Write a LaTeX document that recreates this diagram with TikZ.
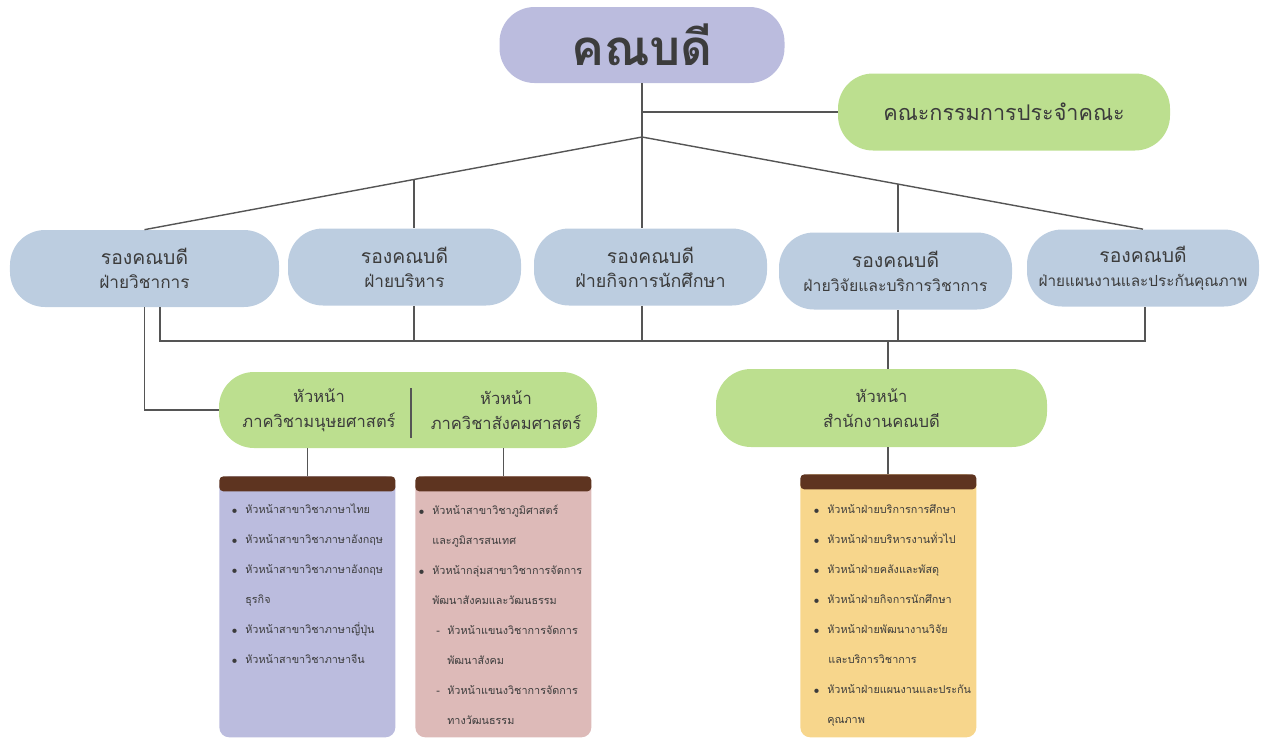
\documentclass[tikz,border=0pt]{standalone}
\usepackage{fontspec}
\setmainfont[Script=Thai]{Loma}
\usepackage{tikz}
\usetikzlibrary{positioning,shapes}

\definecolor{deanpurple}{HTML}{BBBCDE}
\definecolor{leafgreen}{HTML}{BCDF8F}
\definecolor{deputyblue}{HTML}{BCCDE0}
\definecolor{listpink}{HTML}{DDBAB8}
\definecolor{listyellow}{HTML}{F7D68C}
\definecolor{barbrown}{HTML}{5E3420}
\definecolor{linegray}{HTML}{555555}
\definecolor{textgray}{HTML}{3C3C3C}

\newcommand{\blt}{\makebox[0.28cm][l]{$\scriptstyle\bullet$}}
\newcommand{\cnt}{\hspace*{0.28cm}}
\newcommand{\sub}[2]{{\fontsize{#1}{13.6}\selectfont #2}}

\begin{document}
\begin{tikzpicture}[
            pill/.style={rounded corners=0.7cm, align=center, text=textgray, inner sep=0pt},
            deputy/.style={pill, fill=deputyblue, minimum height=1.54cm, font=\fontsize{11}{13.6}\selectfont},
            head/.style={pill, fill=leafgreen, font=\fontsize{9.4}{14}\selectfont},
            listbox/.style={rounded corners=0.2cm, minimum width=3.52cm, minimum height=5.22cm, anchor=north west, inner sep=0pt},
            headbar/.style={rounded corners=0.08cm, fill=barbrown, minimum width=3.52cm, minimum height=0.3cm, anchor=north, inner sep=0pt},
            listtext/.style={anchor=north west, align=left, inner sep=0pt, text=textgray, font=\fontsize{6.15}{17.07}\selectfont},
            link/.style={draw=linegray, line width=0.8pt}
        ]
            \useasboundingbox (0,0) rectangle (25.22,-14.74);
            % Dean and board
            \node[pill, fill=deanpurple, minimum width=5.7cm, minimum height=1.52cm, font=\fontsize{28}{30}\selectfont\bfseries] (dean) at (12.84,-0.9) {คณบดี};
            \node[head, minimum width=6.64cm, minimum height=1.54cm, font=\fontsize{12.3}{14}\selectfont] (board) at (20.08,-2.24) {คณะกรรมการประจำคณะ};
            % Deputy deans
            \node[deputy, minimum width=5.38cm] (acad) at (2.89,-5.37) {รองคณบดี\\\sub{9.8}{ฝ่ายวิชาการ}};
            \node[deputy, minimum width=4.66cm] (admin) at (8.09,-5.34) {รองคณบดี\\\sub{9.8}{ฝ่ายบริหาร}};
            \node[deputy, minimum width=4.66cm] (stud) at (13.01,-5.34) {รองคณบดี\\\sub{10.2}{ฝ่ายกิจการนักศึกษา}};
            \node[deputy, minimum width=4.66cm] (resr) at (17.91,-5.42) {รองคณบดี\\\sub{9}{ฝ่ายวิจัยและบริการวิชาการ}};
            \node[deputy, minimum width=4.64cm] (plan) at (22.86,-5.36) {รองคณบดี\\\sub{8.7}{ฝ่ายแผนงานและประกันคุณภาพ}};
            % Heads
            \node[head, minimum width=7.56cm, minimum height=1.52cm] (depts) at (8.16,-8.2) {};
            \node[text=textgray, align=center, inner sep=0pt, font=\fontsize{9.4}{14}\selectfont] (hum) at (6.38,-8.2) {หัวหน้า\\ภาควิชามนุษยศาสตร์};
            \node[text=textgray, align=center, inner sep=0pt, font=\fontsize{9.4}{14}\selectfont] (soc) at (10.12,-8.2) {หัวหน้า\\ภาควิชาสังคมศาสตร์};
            \draw[link] (8.22,-7.76) -- (8.22,-8.76);
            \node[head, minimum width=6.62cm, minimum height=1.56cm] (office) at (17.63,-8.16) {หัวหน้า\\สำนักงานคณบดี};
            % Lists
            \node[listbox, fill=deanpurple] (humlist) at (4.38,-9.52) {};
            \node[headbar] (humbar) at (humlist.north) {};
            \node[listbox, fill=listpink] (soclist) at (8.3,-9.52) {};
            \node[headbar] (socbar) at (soclist.north) {};
            \node[listbox, fill=listyellow, minimum height=5.26cm] (offlist) at (16.0,-9.48) {};
            \node[headbar] (offbar) at (offlist.north) {};
            \node[listtext] (humitems) at (4.62,-9.84) {\strut\blt หัวหน้าสาขาวิชาภาษาไทย\\
                \blt หัวหน้าสาขาวิชาภาษาอังกฤษ\\
                \blt หัวหน้าสาขาวิชาภาษาอังกฤษ\\
                \cnt ธุรกิจ\\
                \blt หัวหน้าสาขาวิชาภาษาญี่ปุ่น\\
                \blt หัวหน้าสาขาวิชาภาษาจีน};
            \node[listtext] (socitems) at (8.36,-9.86) {\strut\blt หัวหน้าสาขาวิชาภูมิศาสตร์\\
                \cnt และภูมิสารสนเทศ\\
                \blt หัวหน้ากลุ่มสาขาวิชาการจัดการ\\
                \cnt พัฒนาสังคมและวัฒนธรรม\\
                \hspace*{0.36cm}\makebox[0.22cm][l]{-}หัวหน้าแขนงวิชาการจัดการ\\
                \hspace*{0.58cm}พัฒนาสังคม\\
                \hspace*{0.36cm}\makebox[0.22cm][l]{-}หัวหน้าแขนงวิชาการจัดการ\\
                \hspace*{0.58cm}ทางวัฒนธรรม};
            \node[listtext] (offitems) at (16.26,-9.84) {\strut\blt หัวหน้าฝ่ายบริการการศึกษา\\
                \blt หัวหน้าฝ่ายบริหารงานทั่วไป\\
                \blt หัวหน้าฝ่ายคลังและพัสดุ\\
                \blt หัวหน้าฝ่ายกิจการนักศึกษา\\
                \blt หัวหน้าฝ่ายพัฒนางานวิจัย\\
                \hspace*{0.3cm}และบริการวิชาการ\\
                \blt หัวหน้าฝ่ายแผนงานและประกัน\\
                \cnt คุณภาพ};
            % Links
            \coordinate (apex) at (12.84,-2.74);
            \coordinate (j2) at (8.28,-3.58);
            \coordinate (j4) at (17.96,-3.67);
            \coordinate (busl) at (3.2,-6.82);
            \coordinate (busr) at (22.9,-6.82);
            \coordinate (k) at (17.76,-6.82);
            \draw[link] (dean.south) -- (dean.south |- stud.north);
            \draw[link] (dean.south |- board.west) -- (board.west);
            \draw[link] (acad.north) -- (apex) -- (plan.north);
            \draw[link] (j2) -- (j2 |- admin.north);
            \draw[link] (j4) -- (j4 |- resr.north);
            \draw[link] (busl |- acad.south) -- (busl) -- (busr) -- (busr |- plan.south);
            \draw[link] (j2 |- admin.south) -- (j2 |- busl);
            \draw[link] (apex |- stud.south) -- (apex |- busl);
            \draw[link] (j4 |- resr.south) -- (j4 |- busl);
            \draw[link] (k) -- (k |- office.north);
            \draw[link] (k |- office.south) -- (k |- offbar.north);
            \draw[link] (acad.south) |- (depts.west);
            \draw[link] (humbar.north |- depts.south) -- (humbar.north);
            \draw[link] (socbar.north |- depts.south) -- (socbar.north);
        \end{tikzpicture}
\end{document}
